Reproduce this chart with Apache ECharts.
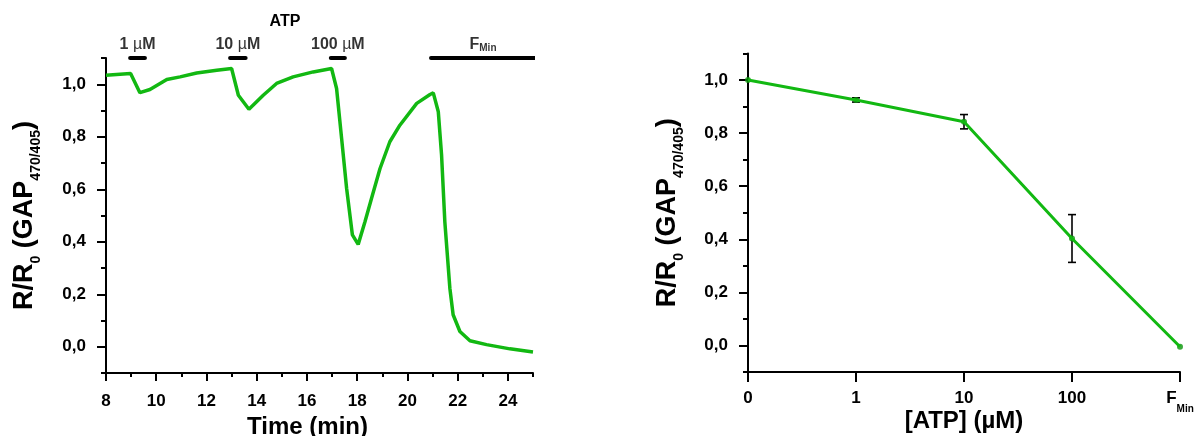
<!DOCTYPE html>
<html>
<head>
<meta charset="utf-8">
<script src="https://cdn.jsdelivr.net/npm/echarts@6/dist/echarts.min.js"></script>
<style>
  html, body { margin: 0; padding: 0; background: #fff; }
  #chart { width: 1196px; height: 436px; }
</style>
</head>
<body>
<div id="chart"></div>
<script>
// left panel: time course
const timeMin = [8.0, 8.98, 9.35, 9.75, 10.42, 10.95, 11.61, 12.41, 13.0, 13.27, 13.69, 14.26, 14.79, 15.45, 16.25, 16.98,
  17.18, 17.38, 17.58, 17.81, 18.04, 18.31, 18.57, 18.91, 19.3, 19.7, 20.37, 20.9, 21.03,
  21.23, 21.36, 21.49, 21.69, 21.82, 22.09, 22.49, 23.15, 24.08, 25.0];
const ratio = [1.034, 1.041, 0.968, 0.98, 1.018, 1.028, 1.043, 1.053, 1.06, 0.958, 0.905, 0.958, 1.003, 1.028, 1.047, 1.06,
  0.984, 0.794, 0.603, 0.426, 0.39, 0.476, 0.565, 0.679, 0.781, 0.844, 0.927, 0.961, 0.967,
  0.895, 0.73, 0.476, 0.223, 0.122, 0.058, 0.023, 0.008, -0.008, -0.02];
const pulseStart = [8.96, 12.94, 16.95, 20.94];
const pulseEnd = [9.55, 13.56, 17.51, 25.08];
const pulseLabels = ['1 µM', '10 µM', '100 µM', 'FMin'];

// right panel: dose response
const doseLabels = ['0', '1', '10', '100', 'FMin'];
const doseMean = [1.0, 0.925, 0.843, 0.403, -0.005];
const doseErr = [0, 0.008, 0.027, 0.09, 0];

const yTicks = [0, 0.2, 0.4, 0.6, 0.8, 1.0];
const yMinorTicks = [-0.1, 0.1, 0.3, 0.5, 0.7, 0.9, 1.1];
const xTicks = [8, 10, 12, 14, 16, 18, 20, 22, 24];
const xMinorTicks = [9, 11, 13, 15, 17, 19, 21, 23, 25];

const FONT = "'Liberation Sans', Arial, sans-serif";
const GREEN = '#12b812';
const BAR_LEVEL = 1.1;

const chart = echarts.init(document.getElementById('chart'));

const yName = '{a|R/R}{s|0}{a| (GAP}{s|470/405}{a|)}';
const yNameStyle = {
  fontFamily: FONT,
  rich: {
    a: { fontSize: 27, fontWeight: 'bold', color: '#000', lineHeight: 36, fontFamily: FONT },
    s: { fontSize: 14, fontWeight: 'bold', color: '#000', lineHeight: 12, verticalAlign: 'bottom', fontFamily: FONT }
  }
};
const axisBlack = { show: true, onZero: false, lineStyle: { color: '#000', width: 2 } };
const labelBase = { color: '#000', fontSize: 17, fontWeight: 'bold', fontFamily: FONT };
const commaFmt = v => v.toFixed(1).replace('.', ',');

function mainY(grid, gap) {
  return {
    type: 'value', gridIndex: grid, position: 'left', min: -0.1, max: 1.1,
    axisLine: axisBlack,
    axisTick: { show: true, customValues: yTicks, length: 9, lineStyle: { color: '#000', width: 2 } },
    axisLabel: Object.assign({ customValues: yTicks, margin: 20, formatter: commaFmt }, labelBase),
    splitLine: { show: false },
    name: yName, nameLocation: 'middle', nameGap: gap, nameRotate: 90, nameMoveOverlap: false,
    nameTextStyle: yNameStyle
  };
}
function minorY(grid) {
  return {
    type: 'value', gridIndex: grid, position: 'left', min: -0.1, max: 1.1,
    axisLine: { show: false, onZero: false },
    axisTick: { show: true, customValues: yMinorTicks, length: 5, lineStyle: { color: '#000', width: 2 } },
    axisLabel: { show: false }, splitLine: { show: false }
  };
}

function pulseLabelText(s) {
  if (s === 'FMin') return '{b|F}{s|Min}';
  return s.split('µ').map(p => '{b|' + p + '}').join('{m|µ}');
}

const option = {
  animation: false,
  backgroundColor: '#fff',
  textStyle: { fontFamily: FONT },
  grid: [
    { left: 106, right: 663, top: 58, bottom: 63, outerBoundsMode: 'none', containLabel: false },
    { left: 748, right: 16, top: 53.5, bottom: 64, outerBoundsMode: 'none', containLabel: false }
  ],
  xAxis: [
    {
      type: 'value', gridIndex: 0, position: 'bottom', min: 8, max: 25,
      axisLine: axisBlack,
      axisTick: { show: true, customValues: xTicks, length: 8, lineStyle: { color: '#000', width: 2 } },
      axisLabel: Object.assign({ customValues: xTicks, margin: 20 }, labelBase),
      splitLine: { show: false },
      name: 'Time (min)', nameLocation: 'middle', nameGap: 42, nameMoveOverlap: false,
      nameTextStyle: { fontSize: 24, fontWeight: 'bold', color: '#000', fontFamily: FONT, padding: [0, 24, 0, 0] }
    },
    {
      type: 'value', gridIndex: 0, position: 'bottom', min: 8, max: 25,
      axisLine: { show: false, onZero: false },
      axisTick: { show: true, customValues: xMinorTicks, length: 4, lineStyle: { color: '#000', width: 2 } },
      axisLabel: { show: false }, splitLine: { show: false }
    },
    {
      type: 'category', gridIndex: 1, position: 'bottom', data: doseLabels, boundaryGap: false,
      axisLine: axisBlack,
      axisTick: { show: true, length: 10, lineStyle: { color: '#000', width: 2 } },
      axisLabel: {
        interval: 0, margin: 10,
        formatter: v => v === 'FMin' ? '{b|F}{s|Min}' : '{b|' + v + '}',
        rich: {
          b: Object.assign({ lineHeight: 32 }, labelBase),
          s: { color: '#000', fontSize: 10, fontWeight: 'bold', fontFamily: FONT, lineHeight: 10, verticalAlign: 'bottom' }
        }
      },
      splitLine: { show: false },
      name: '[ATP] (µM)', nameLocation: 'middle', nameGap: 37, nameMoveOverlap: false,
      nameTextStyle: { fontSize: 24, fontWeight: 'bold', color: '#000', fontFamily: FONT }
    }
  ],
  yAxis: [mainY(0, 63), minorY(0), mainY(1, 62), minorY(1)],
  graphic: [
    { type: 'text', x: 285, y: 22, style: { text: 'ATP', align: 'center', verticalAlign: 'middle', font: "bold 16px 'Liberation Sans', Arial, sans-serif", fill: '#000' } }
  ],
  series: [
    {
      type: 'line', xAxisIndex: 0, yAxisIndex: 0, showSymbol: false, silent: true,
      data: timeMin.map((t, i) => [t, ratio[i]]),
      lineStyle: { color: GREEN, width: 3.5 }
    },
    ...pulseStart.map((s, i) => ({
      type: 'line', xAxisIndex: 0, yAxisIndex: 0, showSymbol: false, silent: true, clip: false,
      data: [[s, BAR_LEVEL], [pulseEnd[i], BAR_LEVEL]],
      lineStyle: { color: '#000', width: 4, cap: 'round' }
    })),
    {
      type: 'scatter', xAxisIndex: 0, yAxisIndex: 0, silent: true, clip: false, symbolSize: 1,
      itemStyle: { color: 'rgba(0,0,0,0)' },
      data: pulseStart.map((s, i) => [(s + pulseEnd[i]) / 2, BAR_LEVEL]),
      label: {
        show: true, position: 'top', distance: 4,
        formatter: p => pulseLabelText(pulseLabels[p.dataIndex]),
        rich: {
          b: { color: '#000', fontSize: 16, fontWeight: 'bold', fontFamily: FONT, lineHeight: 18 },
          m: { color: '#000', fontSize: 16, fontWeight: 'normal', fontFamily: FONT, lineHeight: 18 },
          s: { color: '#000', fontSize: 10, fontWeight: 'bold', fontFamily: FONT, lineHeight: 10, verticalAlign: 'bottom' }
        }
      }
    },
    {
      type: 'line', xAxisIndex: 2, yAxisIndex: 2, showSymbol: false, silent: true,
      data: doseMean,
      lineStyle: { color: GREEN, width: 3 }
    },
    {
      type: 'custom', xAxisIndex: 2, yAxisIndex: 2, silent: true,
      data: doseMean.map((m, i) => [i, m, doseErr[i]]),
      renderItem: (params, api) => {
        const i = api.value(0), m = api.value(1), e = api.value(2);
        if (!e) return null;
        const hi = api.coord([i, m + e]);
        const lo = api.coord([i, m - e]);
        const w = 4;
        const st = { stroke: '#000', lineWidth: 1.6 };
        return {
          type: 'group',
          children: [
            { type: 'line', shape: { x1: hi[0], y1: hi[1], x2: lo[0], y2: lo[1] }, style: st },
            { type: 'line', shape: { x1: hi[0] - w, y1: hi[1], x2: hi[0] + w, y2: hi[1] }, style: st },
            { type: 'line', shape: { x1: lo[0] - w, y1: lo[1], x2: lo[0] + w, y2: lo[1] }, style: st }
          ]
        };
      }
    },
    {
      type: 'scatter', xAxisIndex: 2, yAxisIndex: 2, silent: true, symbolSize: 6,
      itemStyle: { color: '#0b940b' },
      data: doseMean.map((m, i) => [i, m])
    }
  ]
};

chart.setOption(option);
</script>
</body>
</html>
